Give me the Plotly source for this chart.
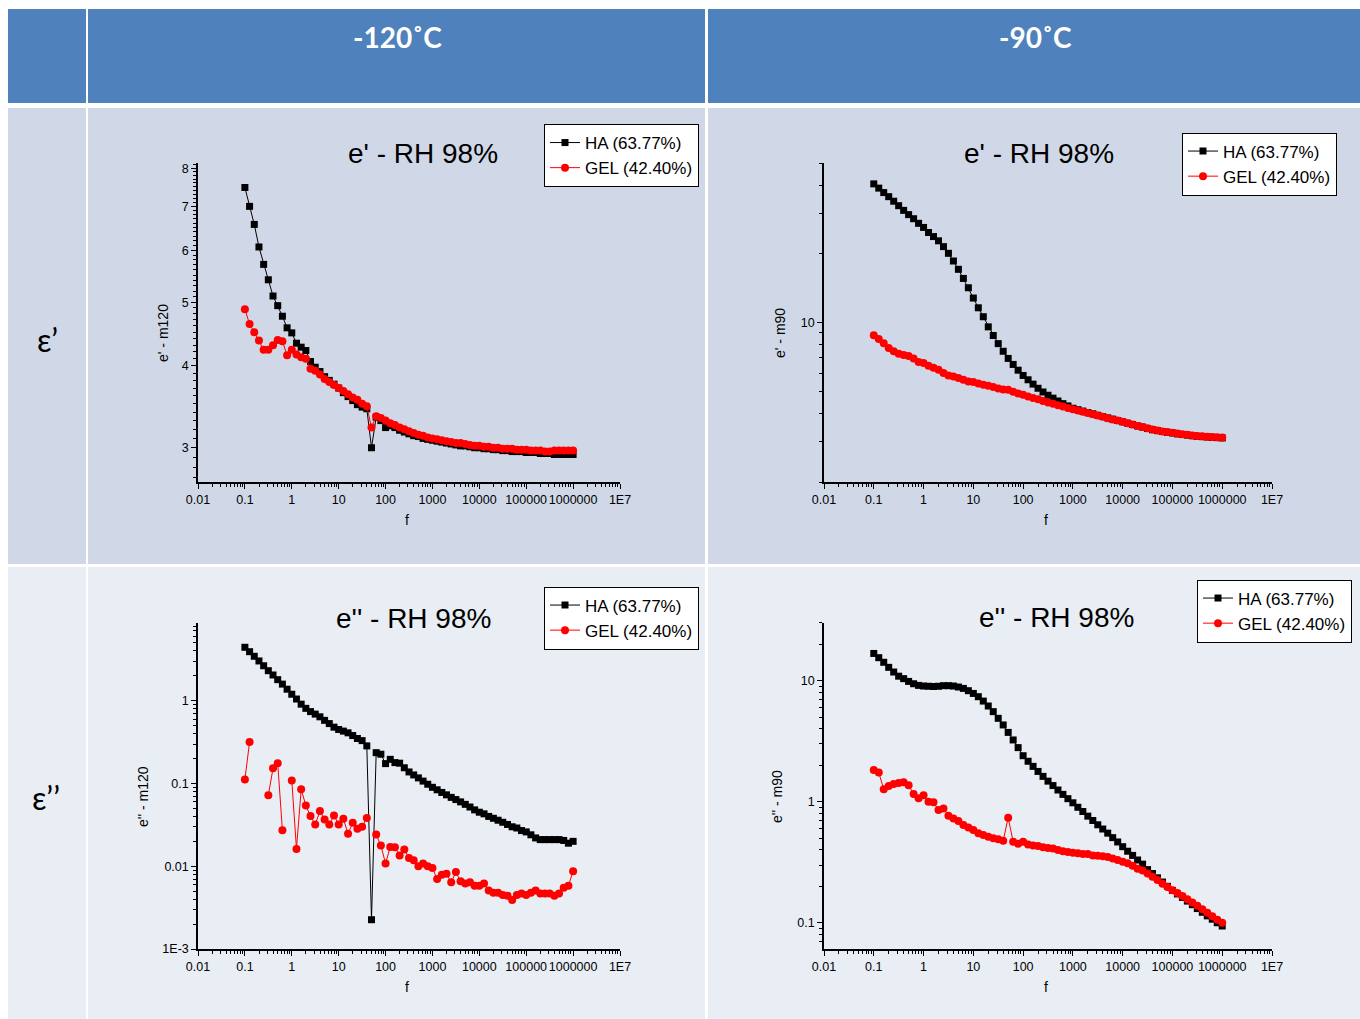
import plotly.graph_objects as go

# ---------------- data ----------------
freq = [0.1, 0.1259, 0.1585, 0.1995, 0.2512, 0.3162, 0.3981, 0.5012, 0.631, 0.7943,
        1, 1.259, 1.585, 1.995, 2.512, 3.162, 3.981, 5.012, 6.31, 7.943,
        10, 12.59, 15.85, 19.95, 25.12, 31.62, 39.81, 50.12, 63.1, 79.43,
        100, 125.9, 158.5, 199.5, 251.2, 316.2, 398.1, 501.2, 631, 794.3,
        1000, 1259, 1585, 1995, 2512, 3162, 3981, 5012, 6310, 7943,
        10000, 12590, 15850, 19950, 25120, 31620, 39810, 50120, 63100, 79430,
        100000, 125900, 158500, 199500, 251200, 316200, 398100, 501200, 631000, 794300,
        1000000]

# e' at -120 C
ep120_ha = [7.48, 7.00, 6.57, 6.07, 5.71, 5.41, 5.11, 4.94, 4.76, 4.57,
            4.49, 4.33, 4.27, 4.22, 4.06, 3.98, 3.92, 3.85, 3.80, 3.75,
            3.70, 3.64, 3.59, 3.54, 3.49, 3.46, 3.44, 3.00, 3.34, 3.30,
            3.22, 3.24, 3.22, 3.19, 3.17, 3.15, 3.13, 3.12, 3.10, 3.09,
            3.08, 3.07, 3.06, 3.05, 3.04, 3.03, 3.02, 3.02, 3.01, 3.00,
            3.00, 2.99, 2.99, 2.98, 2.98, 2.97, 2.97, 2.96, 2.96, 2.96,
            2.95, 2.95, 2.95, 2.94, 2.94, 2.94, 2.93, 2.93, 2.93, 2.93,
            2.93]
ep120_gel = [4.88, 4.63, 4.50, 4.37, 4.23, 4.23, 4.30, 4.38, 4.36, 4.15,
             4.23, 4.16, 4.12, 4.10, 3.96, 3.93, 3.88, 3.82, 3.78, 3.74,
             3.70, 3.66, 3.62, 3.58, 3.55, 3.50, 3.47, 3.22, 3.35, 3.33,
             3.30, 3.27, 3.25, 3.22, 3.20, 3.18, 3.16, 3.14, 3.13, 3.11,
             3.10, 3.09, 3.08, 3.07, 3.06, 3.05, 3.05, 3.04, 3.03, 3.02,
             3.02, 3.01, 3.01, 3.00, 3.00, 2.99, 2.99, 2.99, 2.98, 2.98,
             2.98, 2.97, 2.97, 2.97, 2.96, 2.96, 2.97, 2.97, 2.97, 2.97,
             2.97]

# e' at -90 C
ep90_ha = [40.5, 38.8, 37.1, 35.6, 34.0, 32.5, 31.0, 29.7, 28.5, 27.2,
           26.1, 24.8, 23.8, 22.8, 21.5, 20.1, 18.6, 17.1, 15.6, 14.2,
           12.8, 11.6, 10.6, 9.57, 8.77, 8.08, 7.48, 6.96, 6.55, 6.18,
           5.86, 5.61, 5.37, 5.15, 4.96, 4.80, 4.66, 4.53, 4.41, 4.31,
           4.21, 4.15, 4.09, 4.03, 3.98, 3.92, 3.87, 3.82, 3.77, 3.72,
           3.67, 3.62, 3.57, 3.52, 3.48, 3.43, 3.39, 3.36, 3.33, 3.30,
           3.28, 3.25, 3.23, 3.21, 3.19, 3.17, 3.16, 3.15, 3.14, 3.13,
           3.12]
ep90_gel = [8.80, 8.47, 8.11, 7.73, 7.48, 7.30, 7.21, 7.13, 6.96, 6.71,
            6.64, 6.47, 6.34, 6.21, 6.00, 5.86, 5.80, 5.71, 5.61, 5.52,
            5.48, 5.41, 5.34, 5.28, 5.21, 5.14, 5.09, 5.07, 4.97, 4.89,
            4.82, 4.74, 4.67, 4.61, 4.53, 4.46, 4.40, 4.34, 4.28, 4.22,
            4.17, 4.12, 4.06, 4.01, 3.96, 3.91, 3.86, 3.81, 3.76, 3.72,
            3.67, 3.62, 3.57, 3.52, 3.48, 3.44, 3.40, 3.36, 3.33, 3.31,
            3.29, 3.26, 3.24, 3.22, 3.20, 3.18, 3.17, 3.16, 3.15, 3.14,
            3.13]

# e'' at -120 C
epp120_ha = [4.43, 3.92, 3.45, 3.03, 2.65, 2.31, 2.05, 1.80, 1.59, 1.38,
             1.20, 1.05, 0.91, 0.81, 0.74, 0.69, 0.64, 0.58, 0.53, 0.48,
             0.45, 0.43, 0.41, 0.38, 0.35, 0.33, 0.285, 0.00226, 0.236, 0.226,
             0.174, 0.196, 0.179, 0.176, 0.155, 0.138, 0.127, 0.117, 0.107, 0.098,
             0.090, 0.084, 0.078, 0.073, 0.068, 0.064, 0.060, 0.056, 0.052, 0.048,
             0.045, 0.043, 0.040, 0.038, 0.036, 0.034, 0.032, 0.030, 0.029, 0.027,
             0.026, 0.024, 0.022, 0.021, 0.021, 0.021, 0.021, 0.021, 0.0205, 0.019,
             0.020]
epp120_gel = [0.112, 0.318, None, None, None, 0.072, 0.153, 0.176, 0.0273, None,
              0.109, 0.0162, 0.085, 0.0544, 0.0404, 0.032, 0.0464, 0.0368, 0.032, 0.0411,
              0.032, 0.0375, 0.0247, 0.0335, 0.0284, 0.030, 0.0382, None, 0.0242, 0.0178,
              0.0108, 0.0171, 0.0170, 0.0135, 0.0159, 0.0126, 0.0118, 0.0100, 0.0108, 0.0100,
              0.0095, 0.0070, 0.0079, 0.0081, 0.0064, 0.0085, 0.0066, 0.0062, 0.0064, 0.0058,
              0.0058, 0.0062, 0.0051, 0.0048, 0.0048, 0.0045, 0.0044, 0.0039, 0.0045, 0.0047,
              0.0045, 0.0048, 0.0051, 0.0047, 0.0047, 0.0047, 0.0044, 0.0047, 0.0055, 0.0058,
              0.0087]

# e'' at -90 C
epp90_ha = [16.8, 15.5, 14.2, 12.9, 11.8, 10.9, 10.4, 9.87, 9.44, 9.15,
            9.04, 9.00, 8.96, 9.00, 9.10, 9.10, 9.04, 8.87, 8.64, 8.27,
            7.85, 7.38, 6.79, 6.18, 5.55, 4.89, 4.31, 3.74, 3.24, 2.80,
            2.40, 2.16, 1.96, 1.78, 1.62, 1.48, 1.36, 1.25, 1.15, 1.06,
            0.98, 0.90, 0.83, 0.76, 0.70, 0.645, 0.595, 0.55, 0.505, 0.465,
            0.425, 0.39, 0.36, 0.33, 0.305, 0.275, 0.255, 0.235, 0.217, 0.20,
            0.185, 0.173, 0.162, 0.151, 0.141, 0.131, 0.122, 0.114, 0.107, 0.100,
            0.094]
epp90_gel = [1.83, 1.74, 1.27, 1.35, 1.40, 1.43, 1.45, 1.37, 1.16, 1.07,
             1.13, 1.00, 0.99, 0.853, 0.88, 0.766, 0.728, 0.692, 0.641, 0.613,
             0.583, 0.548, 0.532, 0.514, 0.50, 0.49, 0.477, 0.738, 0.467, 0.45,
             0.467, 0.444, 0.435, 0.43, 0.42, 0.415, 0.41, 0.40, 0.39, 0.385,
             0.379, 0.375, 0.37, 0.37, 0.36, 0.357, 0.355, 0.35, 0.34, 0.33,
             0.319, 0.31, 0.296, 0.28, 0.27, 0.255, 0.24, 0.225, 0.21, 0.197,
             0.186, 0.176, 0.166, 0.156, 0.147, 0.138, 0.129, 0.121, 0.113, 0.106,
             0.100]

series_names = ["HA (63.77%)", "GEL (42.40%)"]
col_headers = ["-120˚C", "-90˚C"]
row_headers = ["ε’", "ε’’"]
panel_titles = ["e' - RH 98%", "e' - RH 98%", "e'' - RH 98%", "e'' - RH 98%"]
y_titles = ["e' - m120", "e' - m90", "e'' - m120", "e'' - m90"]

x_tickvals = [0.01, 0.1, 1, 10, 100, 1000, 10000, 100000, 1000000, 10000000]
x_ticktext = ["0.01", "0.1", "1", "10", "100", "1000", "10000", "100000", "1000000", "1E7"]

# ---------------- layout helpers ----------------
FW, FH = 1360, 1019
def px(x): return x / FW
def py(y): return 1 - y / FH

FONT = "Arial, Liberation Sans, sans-serif"
HFONT = "Lato, Open Sans, sans-serif"

fig = go.Figure()

panels = [
    dict(ha=ep120_ha, gel=ep120_gel, n="", x0=198, x1=620, y0=163, y1=482,
         yr=[0.4249, 0.9112], ytv=[3, 4, 5, 6, 7, 8], ytt=["3", "4", "5", "6", "7", "8"],
         ymin=[round(2.7 + 0.1 * i, 1) for i in range(55)],
         leg=(544, 155.5), title=(423, 154), ytpos=(163, 333)),
    dict(ha=ep90_ha, gel=ep90_gel, n="2", x0=824, x1=1272, y0=163, y1=482,
         yr=[0.30103, 1.69897], ytv=[10], ytt=["10"],
         ymin=[2, 3, 4, 5, 6, 7, 8, 9, 20, 30, 40, 50],
         leg=(1182, 164), title=(1039, 154), ytpos=(780, 333)),
    dict(ha=epp120_ha, gel=epp120_gel, n="3", x0=198, x1=620, y0=623, y1=949,
         yr=[-3, 0.94], ytv=[0.001, 0.01, 0.1, 1], ytt=["1E-3", "0.01", "0.1", "1"],
         ymin=[m * 10 ** d for d in range(-3, 1) for m in range(2, 10)],
         leg=(544, 618), title=(414, 618), ytpos=(143, 797)),
    dict(ha=epp90_ha, gel=epp90_gel, n="4", x0=824, x1=1272, y0=623, y1=949,
         yr=[-1.217, 1.477], ytv=[0.1, 1, 10], ytt=["0.1", "1", "10"],
         ymin=[m * 10 ** d for d in range(-2, 2) for m in range(2, 10)],
         leg=(1197, 611), title=(1056, 617), ytpos=(777, 797)),
]

x_minor = [m * 10 ** d for d in range(-2, 7) for m in range(2, 10)]

def ann(text, x, y, size, family=FONT, color="black", angle=0):
    return dict(text=text, x=px(x), y=py(y), xref="paper", yref="paper",
                xanchor="center", yanchor="middle", showarrow=False, textangle=angle,
                font=dict(family=family, size=size, color=color))

annotations = []
layout_axes = {}
for i, p in enumerate(panels):
    n = p["n"]
    xa, ya = "x" + n, "y" + n
    legname = "legend" + n
    fig.add_trace(go.Scatter(
        x=freq, y=p["ha"], name=series_names[0], mode="lines+markers",
        xaxis=xa, yaxis=ya, legend=legname,
        line=dict(color="black", width=1),
        marker=dict(symbol="square", size=7, color="black")))
    fig.add_trace(go.Scatter(
        x=freq, y=p["gel"], name=series_names[1], mode="lines+markers",
        xaxis=xa, yaxis=ya, legend=legname, connectgaps=False,
        line=dict(color="red", width=1),
        marker=dict(symbol="circle", size=8, color="red")))

    layout_axes["xaxis" + n] = dict(
        type="log", domain=[px(p["x0"]), px(p["x1"])], anchor=ya, range=[-2, 7],
        tickmode="array", tickvals=x_tickvals, ticktext=x_ticktext, tickangle=0,
        showline=True, linecolor="black", linewidth=1.5, automargin=False,
        ticks="outside", ticklen=5, tickwidth=1.2, tickcolor="black",
        minor=dict(tickmode="array", tickvals=x_minor, ticks="outside", ticklen=3,
                   tickwidth=1, tickcolor="black", showgrid=False),
        showgrid=False, zeroline=False,
        tickfont=dict(family=FONT, size=12.5, color="black"))
    layout_axes["yaxis" + n] = dict(
        type="log", domain=[py(p["y1"]), py(p["y0"])], anchor=xa, range=p["yr"],
        tickmode="array", tickvals=p["ytv"], ticktext=p["ytt"],
        showline=True, linecolor="black", linewidth=1.5, automargin=False,
        ticks="outside", ticklen=5, tickwidth=1.2, tickcolor="black",
        minor=dict(tickmode="array", tickvals=p["ymin"], ticks="outside", ticklen=3,
                   tickwidth=1, tickcolor="black", showgrid=False),
        showgrid=False, zeroline=False,
        tickfont=dict(family=FONT, size=12.5, color="black"))

    layout_axes["legend" + n] = dict(
        x=px(p["leg"][0]), y=py(p["leg"][1]), xanchor="left", yanchor="middle",
        bgcolor="white", bordercolor="black", borderwidth=1,
        font=dict(family=FONT, size=17, color="black"),
        tracegroupgap=0, itemwidth=30)

    annotations.append(ann(panel_titles[i], p["title"][0], p["title"][1], 28))
    annotations.append(ann(y_titles[i], p["ytpos"][0], p["ytpos"][1], 14, angle=-90))
    annotations.append(ann("f", (p["x0"] + p["x1"]) / 2 - 2, p["y1"] + 38, 14))

# table headers
annotations.append(ann("<b>" + col_headers[0] + "</b>", 397, 37, 28, HFONT, "white"))
annotations.append(ann("<b>" + col_headers[1] + "</b>", 1035, 37, 28, HFONT, "white"))
annotations.append(ann(row_headers[0], 47, 339, 32, HFONT))
annotations.append(ann(row_headers[1], 46, 797, 32, HFONT))

# table cells
cells = [
    (8, 86, 9, 103, "#4F81BD"), (88, 705, 9, 103, "#4F81BD"), (708, 1360, 9, 103, "#4F81BD"),
    (8, 86, 108, 564, "#D0D8E8"), (88, 705, 108, 564, "#D0D8E8"), (708, 1360, 108, 564, "#D0D8E8"),
    (8, 86, 567, 1019, "#E9EDF4"), (88, 705, 567, 1019, "#E9EDF4"), (708, 1360, 567, 1019, "#E9EDF4"),
]
shapes = [dict(type="rect", xref="paper", yref="paper", x0=px(a), x1=px(b), y0=py(d), y1=py(c),
               fillcolor=col, line=dict(width=0), layer="below") for a, b, c, d, col in cells]

fig.update_layout(
    width=FW, height=FH,
    margin=dict(l=0, r=0, t=0, b=0, pad=0, autoexpand=False),
    paper_bgcolor="white", plot_bgcolor="rgba(0,0,0,0)",
    shapes=shapes, annotations=annotations, showlegend=True,
    **layout_axes)

fig.write_html("out.html", config={"displayModeBar": False},
               post_script="document.body.style.margin='0px'; document.body.style.overflow='hidden';")
